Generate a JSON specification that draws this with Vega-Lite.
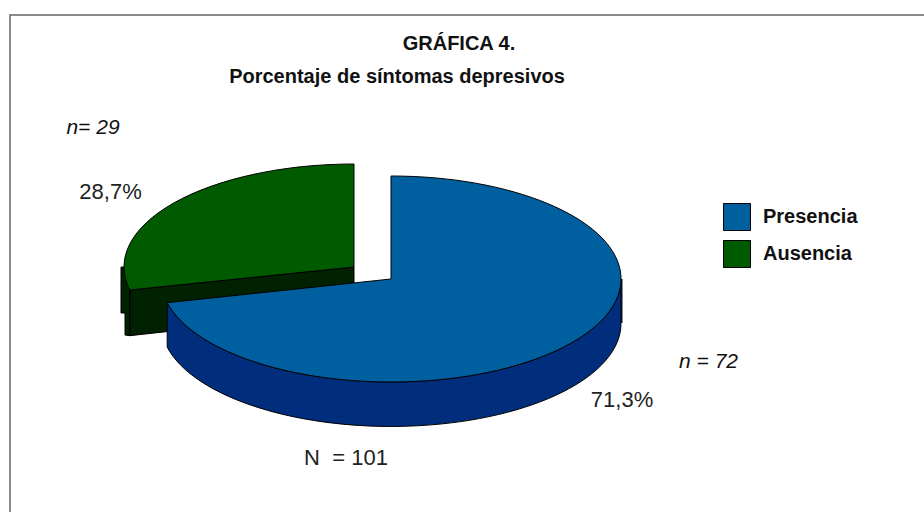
{
  "$schema": "https://vega.github.io/schema/vega-lite/v6.json",
  "width": 924,
  "height": 512,
  "autosize": {"type": "none"},
  "padding": 0,
  "background": "white",
  "view": {"stroke": null},
  "config": {"font": "Liberation Sans"},
  "datasets": {
    "sectores": [
      {"estado": "Ausencia", "porcentaje": 28.7, "n": 29, "pct": "28,7%", "cuenta": "n= 29"},
      {"estado": "Presencia", "porcentaje": 71.3, "n": 72, "pct": "71,3%", "cuenta": "n = 72"}
    ],
    "titulos": [
      {"linea": 1, "texto": "GRÁFICA 4."},
      {"linea": 2, "texto": "Porcentaje de síntomas depresivos"},
      {"linea": 3, "texto": "N\u00a0 = 101"}
    ],
    "marco": [{"elemento": "marco"}]
  },
  "data": {"name": "sectores"},
  "layer": [
    {
      "data": {"name": "marco"},
      "mark": {"type": "point", "filled": false, "stroke": "#666666", "strokeWidth": 1.5, "opacity": 1, "size": 4, "shape": "M -452 256 L -452 -241 L 462 -241"},
      "encoding": {}
    },
    {
      "mark": {"type": "point", "filled": true, "opacity": 1, "size": 4, "stroke": "#000000", "strokeWidth": 1},
      "encoding": {
        "shape": {"field": "estado", "type": "nominal", "legend": null, "scale": {"range": [
          "M -332.2 34 L -108 11 L -108 55 L -332.2 79.7 Z M -341 11 L -337 11 L -332.2 34 L -332.2 79.7 L -337 79 L -337 57 L -341 57 Z",
          "M 159 23 L 159 67.5 A 230 103 0 0 1 -294.8 91.2 L -294.8 46.7 A 230 103 0 0 0 159 23 Z"
        ]}},
        "fill": {"field": "estado", "type": "nominal", "legend": null, "scale": {"range": ["#002200", "#002E7D"]}}
      }
    },
    {
      "transform": [{"filter": "datum.estado === 'Presencia'"}],
      "mark": {"type": "point", "filled": true, "opacity": 1, "size": 4, "fill": "#06122E", "shape": "M 158 23 L 160.5 23 L 160.5 67 L 158 67 Z"},
      "encoding": {}
    },
    {
      "mark": {"type": "point", "filled": true, "opacity": 1, "size": 4, "stroke": "#000000", "strokeWidth": 1},
      "encoding": {
        "shape": {"field": "estado", "type": "nominal", "legend": null, "scale": {"range": [
          "M -108 11 L -108 -92 A 230 103 0 0 0 -332.2 34 Z",
          "M -71 23 L -71 -80 A 230 103 0 1 1 -294.8 46.7 Z"
        ]}},
        "color": {"field": "estado", "type": "nominal", "scale": {"domain": ["Presencia", "Ausencia"], "range": ["#00609F", "#005A00"]},
          "legend": {"title": null, "orient": "none", "legendX": 723, "legendY": 203, "padding": 0, "symbolType": "square", "symbolSize": 729, "symbolStrokeColor": "#000000", "symbolStrokeWidth": 1, "symbolOpacity": 1, "labelFont": "Liberation Sans", "labelFontWeight": "bold", "labelFontSize": 20, "labelColor": "#111111", "labelOffset": 12, "rowPadding": 5, "labelLimit": 200}}
      }
    },
    {
      "data": {"name": "titulos"},
      "transform": [{"filter": "datum.linea === 1"}],
      "mark": {"type": "text", "font": "Liberation Sans", "fontWeight": "bold", "fontSize": 20, "color": "#111111", "align": "center", "baseline": "middle", "dx": -3, "dy": -212},
      "encoding": {"text": {"field": "texto"}}
    },
    {
      "data": {"name": "titulos"},
      "transform": [{"filter": "datum.linea === 2"}],
      "mark": {"type": "text", "font": "Liberation Sans", "fontWeight": "bold", "fontSize": 20, "color": "#111111", "align": "center", "baseline": "middle", "dx": -65, "dy": -179},
      "encoding": {"text": {"field": "texto"}}
    },
    {
      "data": {"name": "titulos"},
      "transform": [{"filter": "datum.linea === 3"}],
      "mark": {"type": "text", "font": "Liberation Sans", "fontSize": 22, "color": "#222222", "align": "center", "baseline": "middle", "dx": -116, "dy": 202},
      "encoding": {"text": {"field": "texto"}}
    },
    {
      "transform": [{"filter": "datum.estado === 'Ausencia'"}],
      "mark": {"type": "text", "font": "Liberation Sans", "fontStyle": "italic", "fontSize": 21, "color": "#111111", "align": "center", "baseline": "middle", "dx": -369, "dy": -128},
      "encoding": {"text": {"field": "cuenta"}}
    },
    {
      "transform": [{"filter": "datum.estado === 'Ausencia'"}],
      "mark": {"type": "text", "font": "Liberation Sans", "fontSize": 22, "color": "#222222", "align": "center", "baseline": "middle", "dx": -351.5, "dy": -64},
      "encoding": {"text": {"field": "pct"}}
    },
    {
      "transform": [{"filter": "datum.estado === 'Presencia'"}],
      "mark": {"type": "text", "font": "Liberation Sans", "fontStyle": "italic", "fontSize": 21, "color": "#111111", "align": "center", "baseline": "middle", "dx": 246.5, "dy": 106},
      "encoding": {"text": {"field": "cuenta"}}
    },
    {
      "transform": [{"filter": "datum.estado === 'Presencia'"}],
      "mark": {"type": "text", "font": "Liberation Sans", "fontSize": 22, "color": "#222222", "align": "center", "baseline": "middle", "dx": 160, "dy": 144},
      "encoding": {"text": {"field": "pct"}}
    }
  ],
  "resolve": {"scale": {"shape": "independent"}}
}
